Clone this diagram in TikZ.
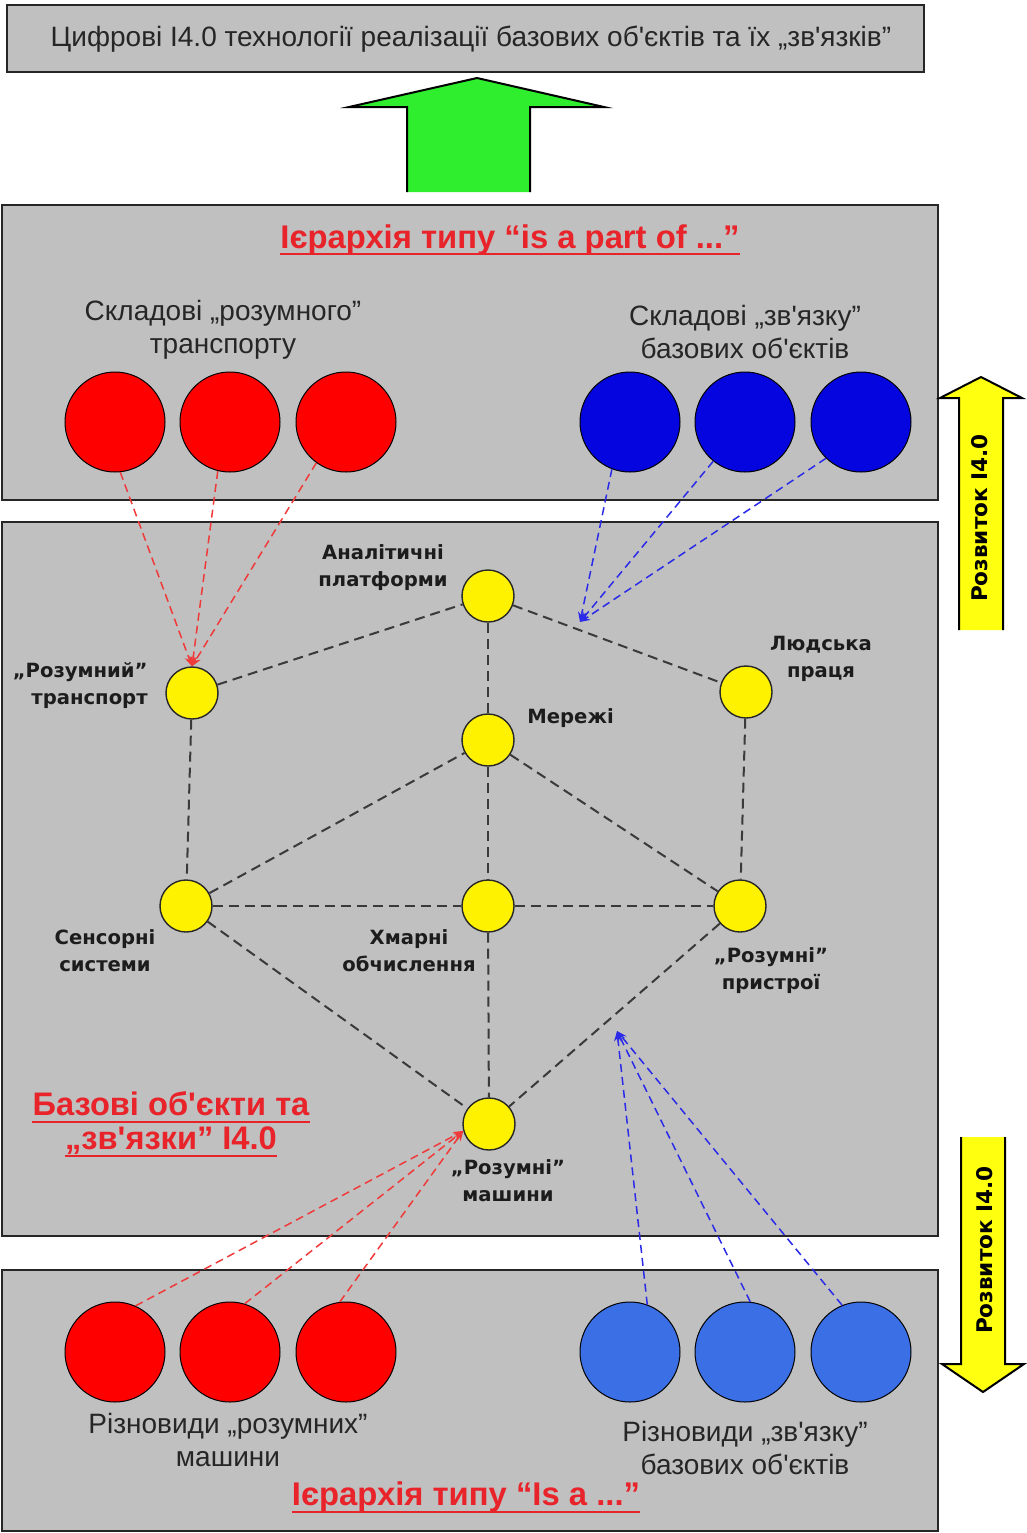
\documentclass[tikz,border=0pt]{standalone}
\usepackage{fontspec}
\setmainfont{Liberation Sans}
\newfontfamily\labelfont{DejaVu Sans}
\usetikzlibrary{arrows.meta}

\definecolor{panel}{HTML}{C0C0C0}
\definecolor{ink}{HTML}{262626}
\definecolor{labelink}{HTML}{1C1C1C}
\definecolor{titlered}{HTML}{E8232A}
\definecolor{partred}{HTML}{FF0000}
\definecolor{partblue}{HTML}{0505E0}
\definecolor{kindblue}{HTML}{3A6FE6}
\definecolor{edgegray}{HTML}{3A3A3A}
\definecolor{linkred}{HTML}{F03A3A}
\definecolor{linkblue}{HTML}{2A2AE8}
\definecolor{arrowgreen}{HTML}{2EEE2E}
\definecolor{arrowyellow}{HTML}{FFFF10}

% straight apostrophe
\newcommand{\ap}{\textquotesingle}

\begin{document}
\begin{tikzpicture}[x=0.5pt,y=-0.5pt,
  panelbox/.style={draw=black!85, line width=0.9pt, fill=panel},
  plaintext/.style={text=ink, align=center, inner sep=0pt,
    font=\fontsize{14}{16.5}\selectfont},
  redtitle/.style={text=titlered, inner sep=0pt, font=\fontsize{16.4}{20}\selectfont\bfseries},
  midtitle/.style={text=titlered, inner sep=0pt, font=\fontsize{16.3}{19}\selectfont\bfseries},
  hub/.style={circle, draw=black!85, line width=0.7pt, fill=yellow,
    minimum size=26pt, inner sep=0pt},
  hublabel/.style={text=labelink, align=center, inner sep=0pt,
    font=\labelfont\bfseries\fontsize{9.8}{13.5}\selectfont},
  part/.style={circle, draw=black, line width=0.5pt, minimum size=50pt, inner sep=0pt},
  edge/.style={draw=edgegray, line width=1pt, dash pattern=on 5pt off 3pt},
  redlink/.style={draw=linkred, line width=0.75pt, dash pattern=on 4pt off 2.5pt,
    -{Stealth[length=5pt,width=4pt]}},
  bluelink/.style={draw=linkblue, line width=0.75pt, dash pattern=on 4pt off 2.5pt,
    -{Stealth[length=5pt,width=4pt]}},
  arrowtext/.style={text=black, inner sep=0pt, rotate=90,
    font=\labelfont\bfseries\fontsize{10.8}{12}\selectfont}
]
\useasboundingbox (0,0) rectangle (1027,1533);

% goal box at the top
\node[draw=black!85, line width=0.9pt, fill=panel, minimum width=458.5pt,
  minimum height=33.5pt, inner sep=0pt] (goal) at (465.5,38.5) {};
\node[inner sep=0pt, text=ink, font=\fontsize{14}{16}\selectfont] (goaltext) at (471,39)
  {Цифрові І4.0 технології реалізації базових об\ap єктів та їх „зв\ap язків”};

% big green arrow pointing at the goal
\fill[arrowgreen] (407,192) -- (407,107) -- (349,107) -- (477,78) -- (604,107)
  -- (530,107) -- (530,192) -- cycle;
\draw[line width=1pt, line join=miter] (407,192) -- (407,107) -- (349,107) -- (477,78)
  -- (604,107) -- (530,107) -- (530,192);

% three layers
\draw[panelbox] (2,205) rectangle (938,500);
\draw[panelbox] (2,522) rectangle (938,1236);
\draw[panelbox] (2,1270) rectangle (938,1531);

% side arrows "Розвиток I4.0"
\fill[arrowyellow] (959,630) -- (959,398) -- (940,398) -- (981,377) -- (1022,398)
  -- (1003,398) -- (1003,630) -- cycle;
\draw[line width=1pt] (959,630) -- (959,398) -- (940,398) -- (981,377) -- (1022,398)
  -- (1003,398) -- (1003,630);
\node[arrowtext] (devup) at (980,518) {Розвиток І4.0};

\fill[arrowyellow] (961,1137) -- (961,1364) -- (942,1364) -- (983,1392) -- (1024,1364)
  -- (1005,1364) -- (1005,1137) -- cycle;
\draw[line width=1pt] (961,1137) -- (961,1364) -- (942,1364) -- (983,1392) -- (1024,1364)
  -- (1005,1364) -- (1005,1137);
\node[arrowtext] (devdown) at (985,1250) {Розвиток І4.0};

% upper layer: "is a part of"
\node[redtitle] (parttitle) at (510,240) {Ієрархія типу “is a part of ...”};
\draw[titlered, line width=1pt] ([yshift=-3pt]parttitle.base west) -- ([yshift=-3pt]parttitle.base east);

\node[plaintext] (parttrans) at (223,330) {Складові „розумного”\\транспорту};
\node[plaintext] (partlink) at (745,332) {Складові „зв\ap язку”\\базових об\ap єктів};

\node[part, fill=partred] (r1) at (115,422) {};
\node[part, fill=partred] (r2) at (230,422) {};
\node[part, fill=partred] (r3) at (346,422) {};
\node[part, fill=partblue] (b1) at (630,422) {};
\node[part, fill=partblue] (b2) at (745,422) {};
\node[part, fill=partblue] (b3) at (861,422) {};

% middle layer: base objects and their links
\node[hub] (anal) at (488,596) {};
\node[hub] (trans) at (192,693) {};
\node[hub] (labour) at (746,692) {};
\node[hub] (net) at (488,740) {};
\node[hub] (sens) at (186,906) {};
\node[hub] (cloud) at (488,906) {};
\node[hub] (dev) at (740,906) {};
\node[hub] (mach) at (489,1124) {};

\node[hublabel] (lanal) at (383,568) {Аналітичні\\платформи};
\node[hublabel, align=right, anchor=east] (ltrans) at (148,686) {„Розумний”\\транспорт};
\node[hublabel, anchor=west] (lnet) at (527,718) {Мережі};
\node[hublabel] (llabour) at (821,659) {Людська\\праця};
\node[hublabel] (lsens) at (105,951) {Сенсорні\\системи};
\node[hublabel] (lcloud) at (409,951) {Хмарні\\обчислення};
\node[hublabel] (ldev) at (771,971) {„Розумні”\\пристрої};
\node[hublabel] (lmach) at (508,1181) {„Розумні”\\машини};

\draw[edge] (trans) -- (anal);
\draw[edge] (anal) -- (labour);
\draw[edge] (anal) -- (net);
\draw[edge] (trans) -- (sens);
\draw[edge] (sens) -- (net);
\draw[edge] (net) -- (cloud);
\draw[edge] (net) -- (dev);
\draw[edge] (labour) -- (dev);
\draw[edge] (sens) -- (cloud);
\draw[edge] (cloud) -- (dev);
\draw[edge] (sens) -- (mach);
\draw[edge] (cloud) -- (mach);
\draw[edge] (dev) -- (mach);

\node[midtitle] (basetitle1) at (171,1104) {Базові об\ap єкти та};
\node[midtitle] (basetitle2) at (171,1141) {„зв\ap язки” І4.0};
\draw[titlered, line width=1pt] ([yshift=-3pt]basetitle1.base west) -- ([yshift=-3pt]basetitle1.base east);
\draw[titlered, line width=1pt] ([yshift=-3pt]basetitle2.base west) -- ([yshift=-3pt]basetitle2.base east);

% lower layer: "is a"
\node[part, fill=partred] (k1) at (115,1352) {};
\node[part, fill=partred] (k2) at (230,1352) {};
\node[part, fill=partred] (k3) at (346,1352) {};
\node[part, fill=kindblue] (c1) at (630,1352) {};
\node[part, fill=kindblue] (c2) at (745,1352) {};
\node[part, fill=kindblue] (c3) at (861,1352) {};

\node[plaintext] (kindmach) at (228,1440) {Різновиди „розумних”\\машини};
\node[plaintext] (kindlink) at (745,1448) {Різновиди „зв\ap язку”\\базових об\ap єктів};

\node[redtitle] (kindtitle) at (466,1497) {Ієрархія типу “Is a ...”};
\draw[titlered, line width=1pt] ([yshift=-3pt]kindtitle.base west) -- ([yshift=-3pt]kindtitle.base east);

% where the link arrows meet the edges
\coordinate (linkup) at (580,622);
\coordinate (linkdown) at (617,1031);

% hierarchy links
\draw[redlink] (r1.-84) -- (trans.north);
\draw[redlink] (r2.-104) -- (trans.north);
\draw[redlink] (r3.-126) -- (trans.north);
\draw[bluelink] (b1.-111) -- (linkup);
\draw[bluelink] (b2.-129) -- (linkup);
\draw[bluelink] (b3.-134) -- (linkup);

\draw[redlink] (k1.66) -- (mach.195);
\draw[redlink] (k2.73) -- (mach.195);
\draw[redlink] (k3.97) -- (mach.195);
\draw[bluelink] (c1.70) -- (linkdown);
\draw[bluelink] (c2.84) -- (linkdown);
\draw[bluelink] (c3.112) -- (linkdown);
\end{tikzpicture}
\end{document}
